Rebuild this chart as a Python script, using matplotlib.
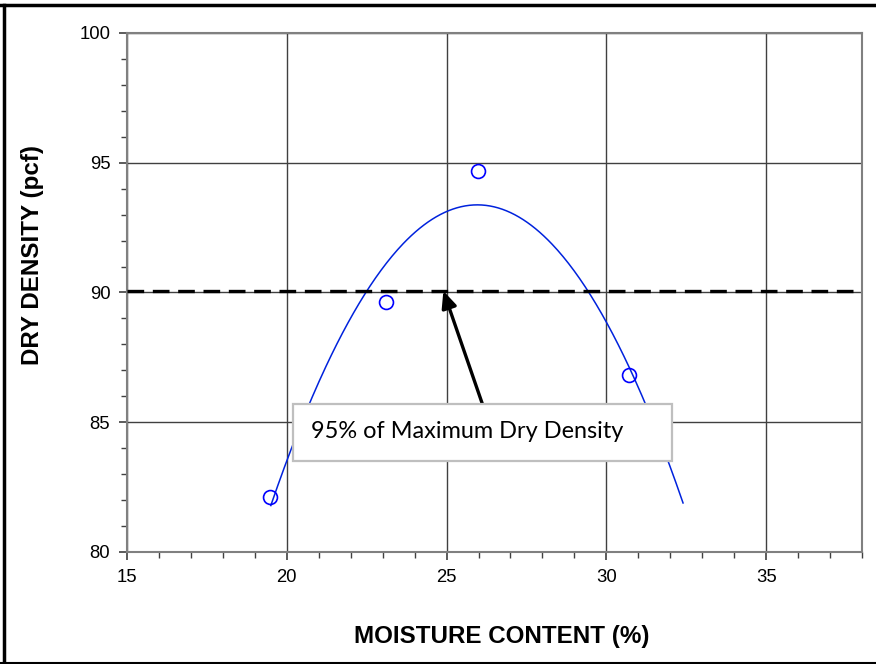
import numpy as np
import matplotlib
matplotlib.use("Agg")
import matplotlib.pyplot as plt
from matplotlib.lines import Line2D
from matplotlib.patches import Rectangle
from matplotlib.ticker import MultipleLocator

# data
moisture = [19.47, 23.09, 25.97, 30.72]
density = [82.12, 89.63, 94.68, 86.82]
curve_range = [19.5, 32.4]
target_density = 90.06
annotation_text = "95% of Maximum Dry Density"

plt.rcParams["font.family"] = ["Liberation Sans", "DejaVu Sans"]

W, H = 876, 664
fig = plt.figure(figsize=(W / 100, H / 100), dpi=100)
ax = fig.add_axes([127 / W, 1 - 552 / H, (862 - 127) / W, (552 - 33) / H])

ax.set_xlim(15, 38)
ax.set_ylim(80, 100)
ax.xaxis.set_major_locator(MultipleLocator(5))
ax.xaxis.set_minor_locator(MultipleLocator(1))
ax.yaxis.set_major_locator(MultipleLocator(5))
ax.yaxis.set_minor_locator(MultipleLocator(1))
ax.grid(True, which="major", color="#404040", linewidth=1.0, zorder=0)
ax.tick_params(which="major", direction="out", length=6, width=1.2, color="#404040",
               labelsize=13.3, pad=6)
ax.tick_params(which="minor", direction="out", length=4, width=1.0, color="#404040")
for s in ax.spines.values():
    s.set_color("#808080")
    s.set_linewidth(1.5)

# fitted curve
coef = np.polyfit(moisture, density, 2)
xs = np.linspace(curve_range[0], curve_range[1], 300)
ax.plot(xs, np.polyval(coef, xs), color="#0022DD", linewidth=1.1, zorder=3)

ax.plot(moisture, density, linestyle="none", marker="o", markersize=10,
        markerfacecolor="none", markeredgecolor="#0000FF", markeredgewidth=1.2, zorder=4)

ax.axhline(target_density, color="black", linewidth=2.4, dashes=(5, 2.6), zorder=3)

ax.annotate("", xy=(24.9, target_density), xytext=(26.15, 85.6),
            arrowprops=dict(arrowstyle="-|>,head_length=1.0,head_width=0.45",
                            color="black", lw=2.4, shrinkA=0, shrinkB=0), zorder=5)

# annotation box (figure pixel coords)
fig.add_artist(Rectangle((293 / W, 1 - 461 / H), (672 - 293) / W, (461 - 404) / H,
                         transform=fig.transFigure, facecolor="white", edgecolor="#BFBFBF",
                         linewidth=1.6, zorder=6))
fig.text(311 / W, 1 - 432 / H, annotation_text, fontsize=16.9, family="Lato",
         va="center", ha="left", zorder=7)

fig.text(502 / W, 1 - 636 / H, "MOISTURE CONTENT (%)", fontsize=17.4, fontweight="bold",
         ha="center", va="center")
fig.text(33 / W, 1 - 255 / H, "DRY DENSITY (pcf)", fontsize=17.4, fontweight="bold",
         ha="center", va="center", rotation=90)

# outer frame
fig.add_artist(Line2D([0, 1], [1 - 5 / H, 1 - 5 / H], transform=fig.transFigure, color="black", lw=2.5))
fig.add_artist(Line2D([4 / W, 4 / W], [0, 1 - 5 / H], transform=fig.transFigure, color="black", lw=2.5))
fig.add_artist(Line2D([0, 1], [1 - 663 / H, 1 - 663 / H], transform=fig.transFigure, color="black", lw=1.5))

fig.savefig("out.png", dpi=100)
